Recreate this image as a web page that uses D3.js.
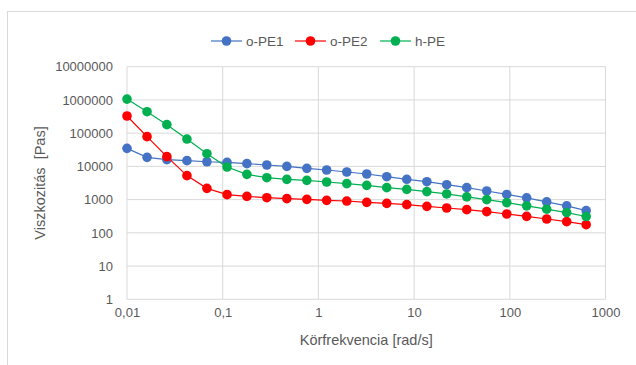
<!DOCTYPE html>
<html>
<head>
<meta charset="utf-8">
<script src="https://cdn.jsdelivr.net/npm/d3@7"></script>
<style>
  body { margin: 0; background: #fff; }
  text { font-family: "Liberation Sans", Arial, sans-serif; fill: #595959; }
</style>
</head>
<body>
<div id="vis"></div>
<script>
const W = 636, H = 365;
const margin = {top: 66.7, right: 30.5, bottom: 65.7, left: 127};
const width = W - margin.left - margin.right;
const height = H - margin.top - margin.bottom;

// angular frequency [rad/s]
const freq = [0.01, 0.0162, 0.0261, 0.0423, 0.0684, 0.111, 0.179, 0.289, 0.468, 0.757,
  1.22, 1.98, 3.2, 5.18, 8.38, 13.6, 21.9, 35.5, 57.4, 92.9, 150, 243, 393, 628];

const oPE1 = [34900, 18700, 15900, 14900, 13800, 13200, 12100, 11000, 10000, 8730,
  7780, 6770, 5900, 4900, 4080, 3460, 2810, 2290, 1820, 1430, 1130, 853, 650, 465];
const oPE2 = [328000, 78400, 19600, 5270, 2180, 1410, 1250, 1140, 1070, 1020,
  950, 907, 828, 773, 705, 627, 559, 498, 434, 369, 314, 261, 217, 176];
const hPE = [1060000, 443000, 180000, 66500, 24100, 9570, 5760, 4570, 4070, 3800,
  3390, 3020, 2690, 2290, 2040, 1740, 1480, 1210, 1000, 812, 650, 515, 408, 310];

const seriesNames = ['o-PE1', 'o-PE2', 'h-PE'];
const seriesColors = ['#4472C4', '#FF0000', '#00B050'];
const xTicks = [0.01, 0.1, 1, 10, 100, 1000];
const xTickLabels = ['0,01', '0,1', '1', '10', '100', '1000'];
const yTicks = [1, 10, 100, 1000, 10000, 100000, 1000000, 10000000];

const series = [oPE1, oPE2, hPE].map((vals, i) => ({
  name: seriesNames[i],
  color: seriesColors[i],
  points: vals.map((v, j) => ({x: freq[j], y: v}))
}));

const root = d3.select('#vis')
  .append('svg')
  .attr('width', W)
  .attr('height', H);

// chart frame
root.append('rect')
  .attr('x', 7.5).attr('y', 11.5)
  .attr('width', 700).attr('height', 400)
  .attr('fill', '#fff')
  .attr('stroke', '#D9D9D9');

const svg = root.append('g')
  .attr('transform', `translate(${margin.left},${margin.top})`);

const xScale = d3.scaleLog().domain([0.01, 1000]).range([0, width]);
const yScale = d3.scaleLog().domain([1, 10000000]).range([height, 0]);

// gridlines
svg.append('g')
  .selectAll('line')
  .data(yTicks)
  .join('line')
  .attr('x1', 0).attr('x2', width)
  .attr('y1', d => yScale(d)).attr('y2', d => yScale(d))
  .attr('stroke', '#D9D9D9').attr('stroke-width', 1);

svg.append('g')
  .selectAll('line')
  .data(xTicks)
  .join('line')
  .attr('y1', 0).attr('y2', height)
  .attr('x1', d => xScale(d)).attr('x2', d => xScale(d))
  .attr('stroke', '#D9D9D9').attr('stroke-width', 1);

// axes (labels only)
const xAxis = d3.axisBottom(xScale)
  .tickValues(xTicks)
  .tickFormat((d, i) => xTickLabels[i])
  .tickSize(0)
  .tickPadding(8);
const gx = svg.append('g')
  .attr('transform', `translate(0,${height})`)
  .call(xAxis);
gx.select('.domain').remove();
gx.selectAll('text').style('font-size', '13px').attr('fill', '#595959');

const yAxis = d3.axisLeft(yScale)
  .tickValues(yTicks)
  .tickFormat(d3.format('d'))
  .tickSize(0)
  .tickPadding(14);
const gy = svg.append('g').call(yAxis);
gy.select('.domain').remove();
gy.selectAll('text').style('font-size', '13px').attr('fill', '#595959');

// series
const line = d3.line()
  .x(d => xScale(d.x))
  .y(d => yScale(d.y));

series.forEach(s => {
  svg.append('path')
    .datum(s.points)
    .attr('fill', 'none')
    .attr('stroke', s.color)
    .attr('stroke-width', 1.2)
    .attr('d', line);
  svg.append('g')
    .selectAll('circle')
    .data(s.points)
    .join('circle')
    .attr('cx', d => xScale(d.x))
    .attr('cy', d => yScale(d.y))
    .attr('r', 4.8)
    .attr('fill', s.color);
});

// axis titles
svg.append('text')
  .attr('x', width / 2)
  .attr('y', height + 46)
  .style('text-anchor', 'middle')
  .style('font-size', '14.5px')
  .text('Körfrekvencia [rad/s]');

svg.append('text')
  .attr('transform', 'rotate(-90)')
  .attr('x', -(183 - margin.top))
  .attr('y', -margin.left + 45)
  .style('text-anchor', 'middle')
  .style('font-size', '14.5px')
  .style('white-space', 'pre')
  .text('Viszkozitás  [Pas]');

// legend
const legendX = [211, 295, 380];
const legend = root.append('g');
series.forEach((s, i) => {
  const g = legend.append('g').attr('transform', `translate(${legendX[i]},41)`);
  g.append('line').attr('x1', 0).attr('x2', 31).attr('y1', 0).attr('y2', 0)
    .attr('stroke', s.color).attr('stroke-width', 1.2);
  g.append('circle').attr('cx', 15.5).attr('cy', 0).attr('r', 4.8).attr('fill', s.color);
  g.append('text').attr('x', 35).attr('y', 5).style('font-size', '13.5px').text(s.name);
});
</script>
</body>
</html>
